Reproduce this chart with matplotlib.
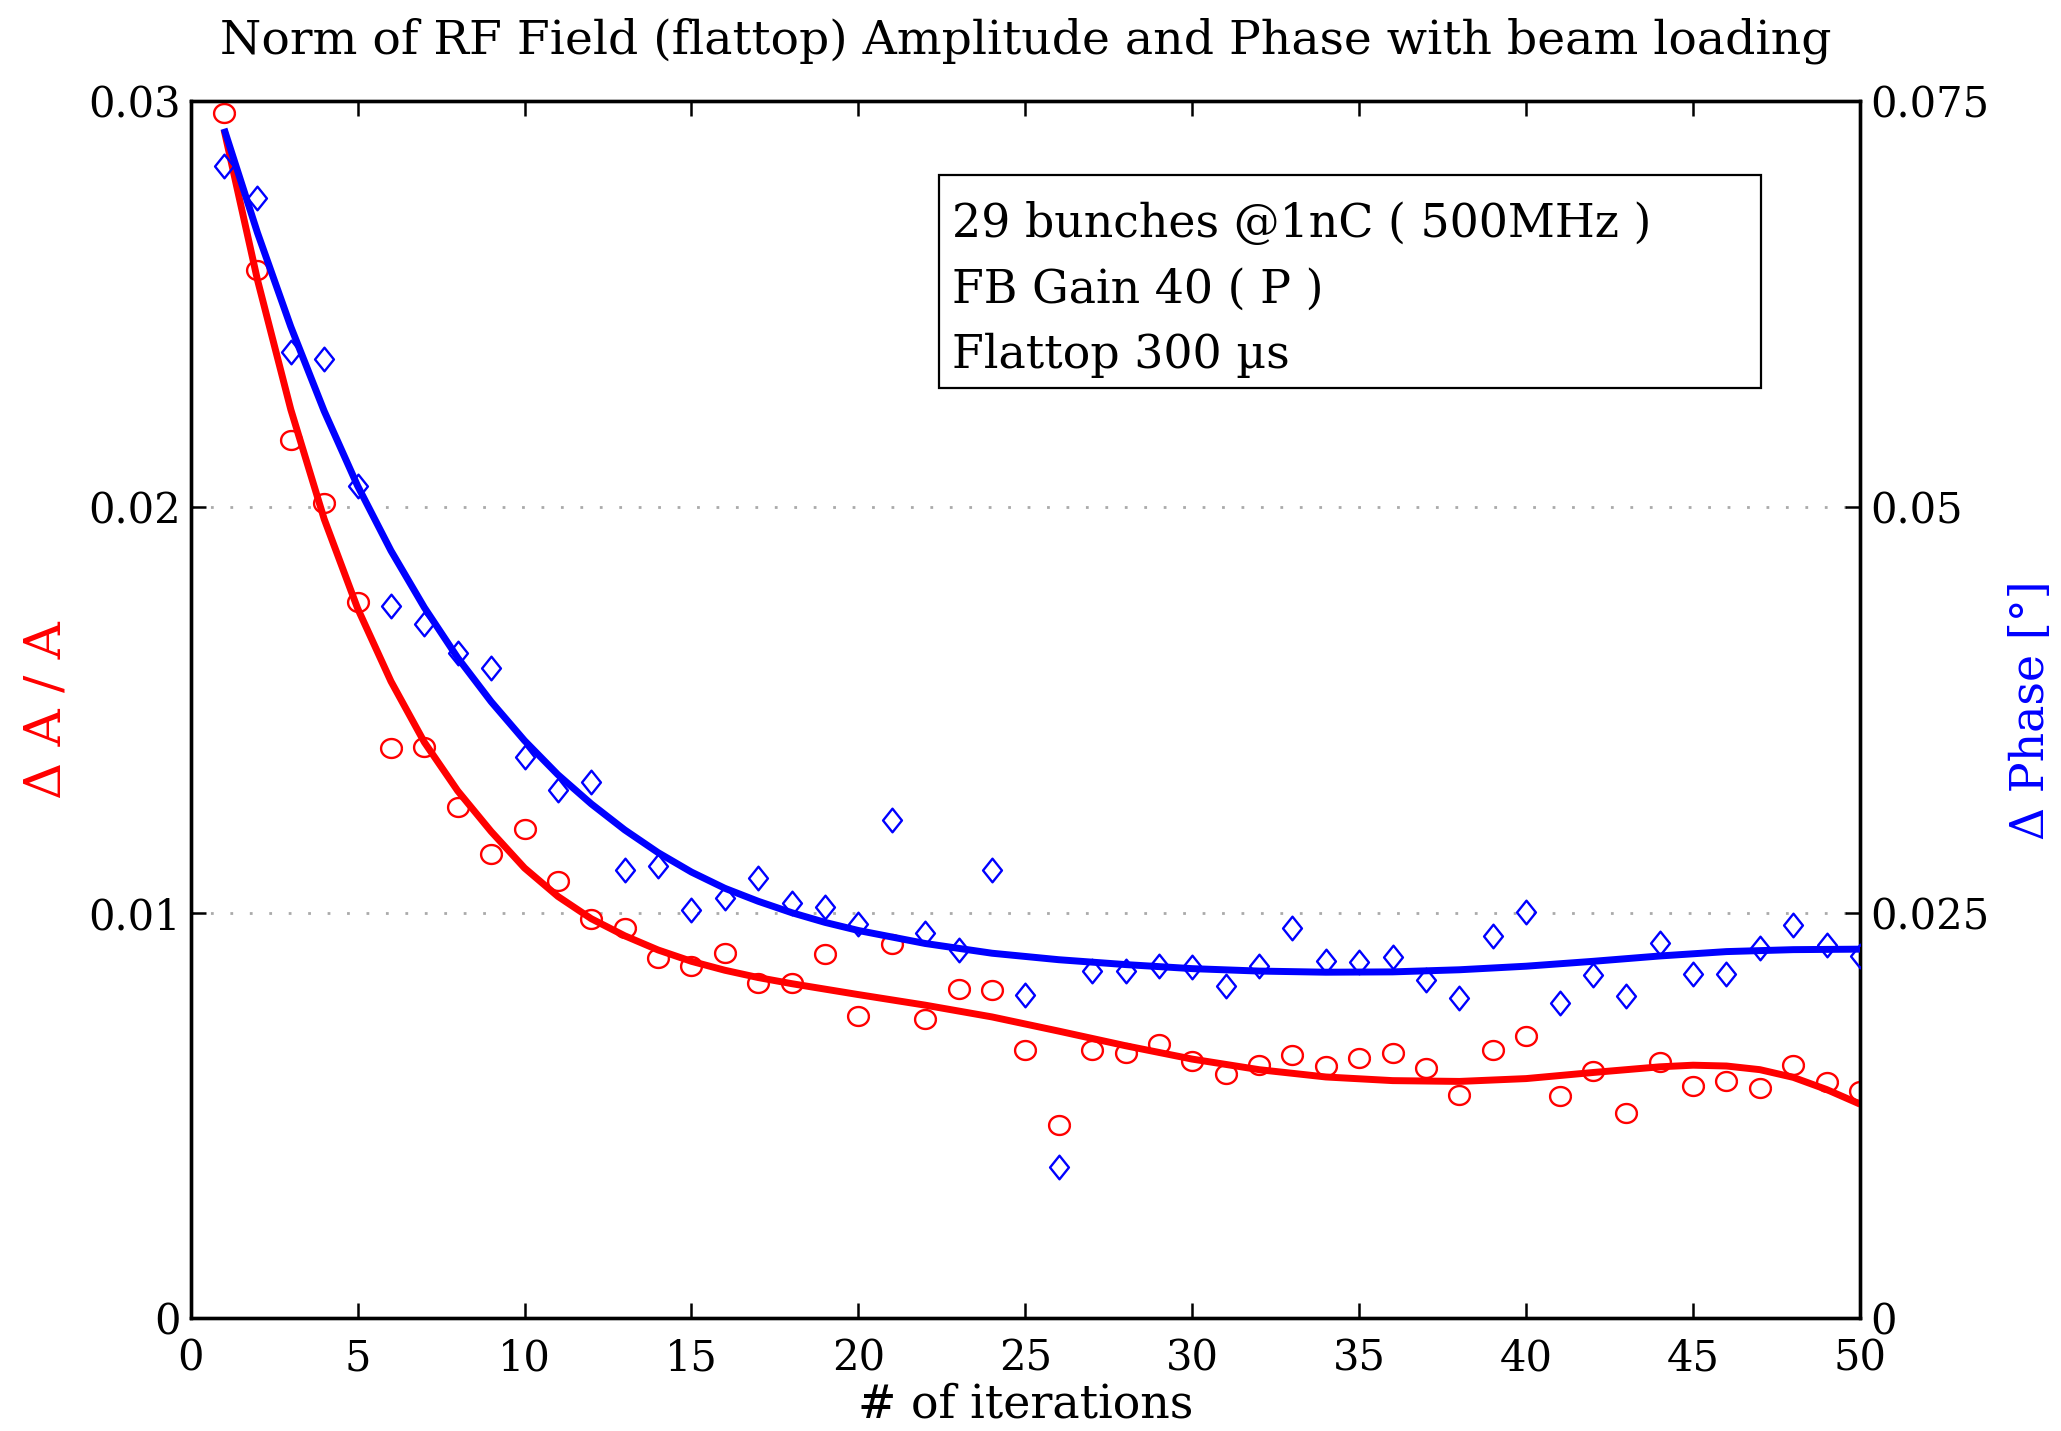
import numpy as np
import matplotlib
matplotlib.use("Agg")
import matplotlib.pyplot as plt
from matplotlib.path import Path
from matplotlib.patches import Rectangle

# ---- measured data points ----
iterations = list(range(1, 51))
amp_err = [0.02971, 0.02585, 0.02164, 0.02009, 0.01766, 0.01406, 0.01409, 0.01260, 0.01144, 0.01205,
           0.01079, 0.00985, 0.00962, 0.00888, 0.00868, 0.00901, 0.00826, 0.00826, 0.00897, 0.00745,
           0.00923, 0.00739, 0.00813, 0.00810, 0.00661, 0.00476, 0.00661, 0.00654, 0.00677, 0.00635,
           0.00603, 0.00625, 0.00648, 0.00622, 0.00641, 0.00654, 0.00616, 0.00551, 0.00661, 0.00697,
           0.00548, 0.00609, 0.00505, 0.00632, 0.00573, 0.00586, 0.00567, 0.00625, 0.00583, 0.00560]
phase_err = [0.07103, 0.06901, 0.05953, 0.05913, 0.05127, 0.04390, 0.04276, 0.04098, 0.04009, 0.03458,
             0.03256, 0.03305, 0.02762, 0.02786, 0.02519, 0.02592, 0.02713, 0.02559, 0.02535, 0.02430,
             0.03070, 0.02373, 0.02268, 0.02762, 0.01992, 0.00931, 0.02138, 0.02138, 0.02171, 0.02163,
             0.02049, 0.02171, 0.02405, 0.02203, 0.02195, 0.02227, 0.02082, 0.01976, 0.02357, 0.02503,
             0.01944, 0.02114, 0.01984, 0.02316, 0.02122, 0.02122, 0.02284, 0.02422, 0.02300, 0.02235]

# ---- fitted trend curves ----
amp_fit_x = [1, 2, 3, 4, 5, 6, 7, 8, 9, 10, 11, 12, 13, 14, 15, 16, 17, 18, 20, 22, 24, 26, 28, 30,
             32, 34, 36, 38, 40, 42, 44, 45, 46, 47, 48, 49, 50]
amp_fit = [0.0293, 0.0256, 0.0224, 0.0197, 0.0175, 0.0157, 0.0142, 0.0130, 0.0120, 0.0111, 0.0104,
           0.00985, 0.00943, 0.00908, 0.00880, 0.00858, 0.00840, 0.00825, 0.00798, 0.00772, 0.00743,
           0.00708, 0.00672, 0.00639, 0.00613, 0.00595, 0.00586, 0.00584, 0.00591, 0.00606, 0.00620,
           0.00624, 0.00622, 0.00613, 0.00594, 0.00564, 0.00528]
phase_fit_x = [1, 2, 3, 4, 5, 6, 7, 8, 9, 10, 11, 12, 13, 14, 15, 16, 17, 18, 19, 20, 22, 24, 26, 28,
               30, 32, 34, 36, 38, 40, 42, 44, 46, 48, 50]
phase_fit = [0.0733, 0.0669, 0.0611, 0.0559, 0.0513, 0.0473, 0.0438, 0.0407, 0.0380, 0.0356, 0.0335,
             0.0317, 0.0301, 0.0287, 0.0275, 0.0265, 0.0257, 0.0250, 0.0244, 0.0239, 0.0231, 0.0225,
             0.0221, 0.0218, 0.02155, 0.0214, 0.02133, 0.02135, 0.02148, 0.0217, 0.0220, 0.02233,
             0.0226, 0.02272, 0.02275]

left_ticks = [0, 0.01, 0.02, 0.03]
left_ticklabels = ["0", "0.01", "0.02", "0.03"]
right_ticks = [0, 0.025, 0.05, 0.075]
right_ticklabels = ["0", "0.025", "0.05", "0.075"]
x_ticks = [0, 5, 10, 15, 20, 25, 30, 35, 40, 45, 50]
info_lines = ["29 bunches @1nC ( 500MHz )", "FB Gain 40 ( P )", "Flattop 300 µs"]

plt.rcParams['font.family'] = ['DejaVu Serif', 'Liberation Serif']
TICK_FS = 30
TEXT_FS = 33

fig = plt.figure(figsize=(20.61, 14.31), dpi=100)
ax = fig.add_axes([0.0925, 0.0787, 0.81, 0.8506])
ax2 = ax.twinx()

# marker shapes (slightly wide circle, tall diamond)
t = np.linspace(0, 2 * np.pi, 60)
ellipse = Path(np.column_stack([1.1 * np.cos(t), np.sin(t)]))
diamond = Path([(0, 1), (0.8, 0), (0, -1), (-0.8, 0), (0, 1)],
               [Path.MOVETO, Path.LINETO, Path.LINETO, Path.LINETO, Path.CLOSEPOLY])

ax.plot(iterations, amp_err, linestyle='none', marker=ellipse, markersize=15,
        markerfacecolor='none', markeredgecolor='red', markeredgewidth=1.7, zorder=3)
ax.plot(amp_fit_x, amp_fit, color='red', linewidth=5, solid_joinstyle='round',
        solid_capstyle='butt', zorder=4)
ax2.plot(iterations, phase_err, linestyle='none', marker=diamond, markersize=17,
         markerfacecolor='none', markeredgecolor='blue', markeredgewidth=1.7, zorder=3)
ax2.plot(phase_fit_x, phase_fit, color='blue', linewidth=5, solid_joinstyle='round',
         solid_capstyle='butt', zorder=4)

ax.set_xlim(0, 50)
ax.set_ylim(0, 0.03)
ax2.set_ylim(0, 0.075)
ax.set_xticks(x_ticks)
ax.set_xticklabels([str(v) for v in x_ticks])
ax.set_yticks(left_ticks)
ax.set_yticklabels(left_ticklabels)
ax2.set_yticks(right_ticks)
ax2.set_yticklabels(right_ticklabels)

for axis in (ax, ax2):
    for s in axis.spines.values():
        s.set_linewidth(2.4)
ax.tick_params(axis='both', direction='in', length=11, width=1.8, labelsize=TICK_FS, pad=7)
ax.tick_params(axis='x', top=True, pad=14)
ax.tick_params(axis='y', right=False)
ax2.tick_params(axis='y', direction='in', length=11, width=1.8, labelsize=TICK_FS, pad=7)

ax.yaxis.grid(True, linestyle=(0, (1, 6)), color='#aaaaaa', linewidth=2)
ax.set_axisbelow(True)

ax.set_xlabel("# of iterations", fontsize=TEXT_FS, labelpad=2)
ax.set_ylabel("Δ A / A", fontsize=37, color='red', labelpad=12)
ax2.set_ylabel("Δ Phase [°]", fontsize=TEXT_FS, color='blue', labelpad=14)
ax.set_title("Norm of RF Field (flattop) Amplitude and Phase with beam loading",
             fontsize=34, pad=34)

# annotation box
ax2.add_patch(Rectangle((0.448, 0.7646), 0.4927, 0.1749, transform=ax.transAxes,
                        facecolor='white', edgecolor='black', linewidth=1.6, zorder=9))
for line, yb in zip(info_lines, [0.8888, 0.8348, 0.7808]):
    ax2.text(0.4559, yb, line, transform=ax.transAxes, fontsize=TEXT_FS,
             ha='left', va='baseline', zorder=10)

fig.savefig("out.png", dpi=100)
